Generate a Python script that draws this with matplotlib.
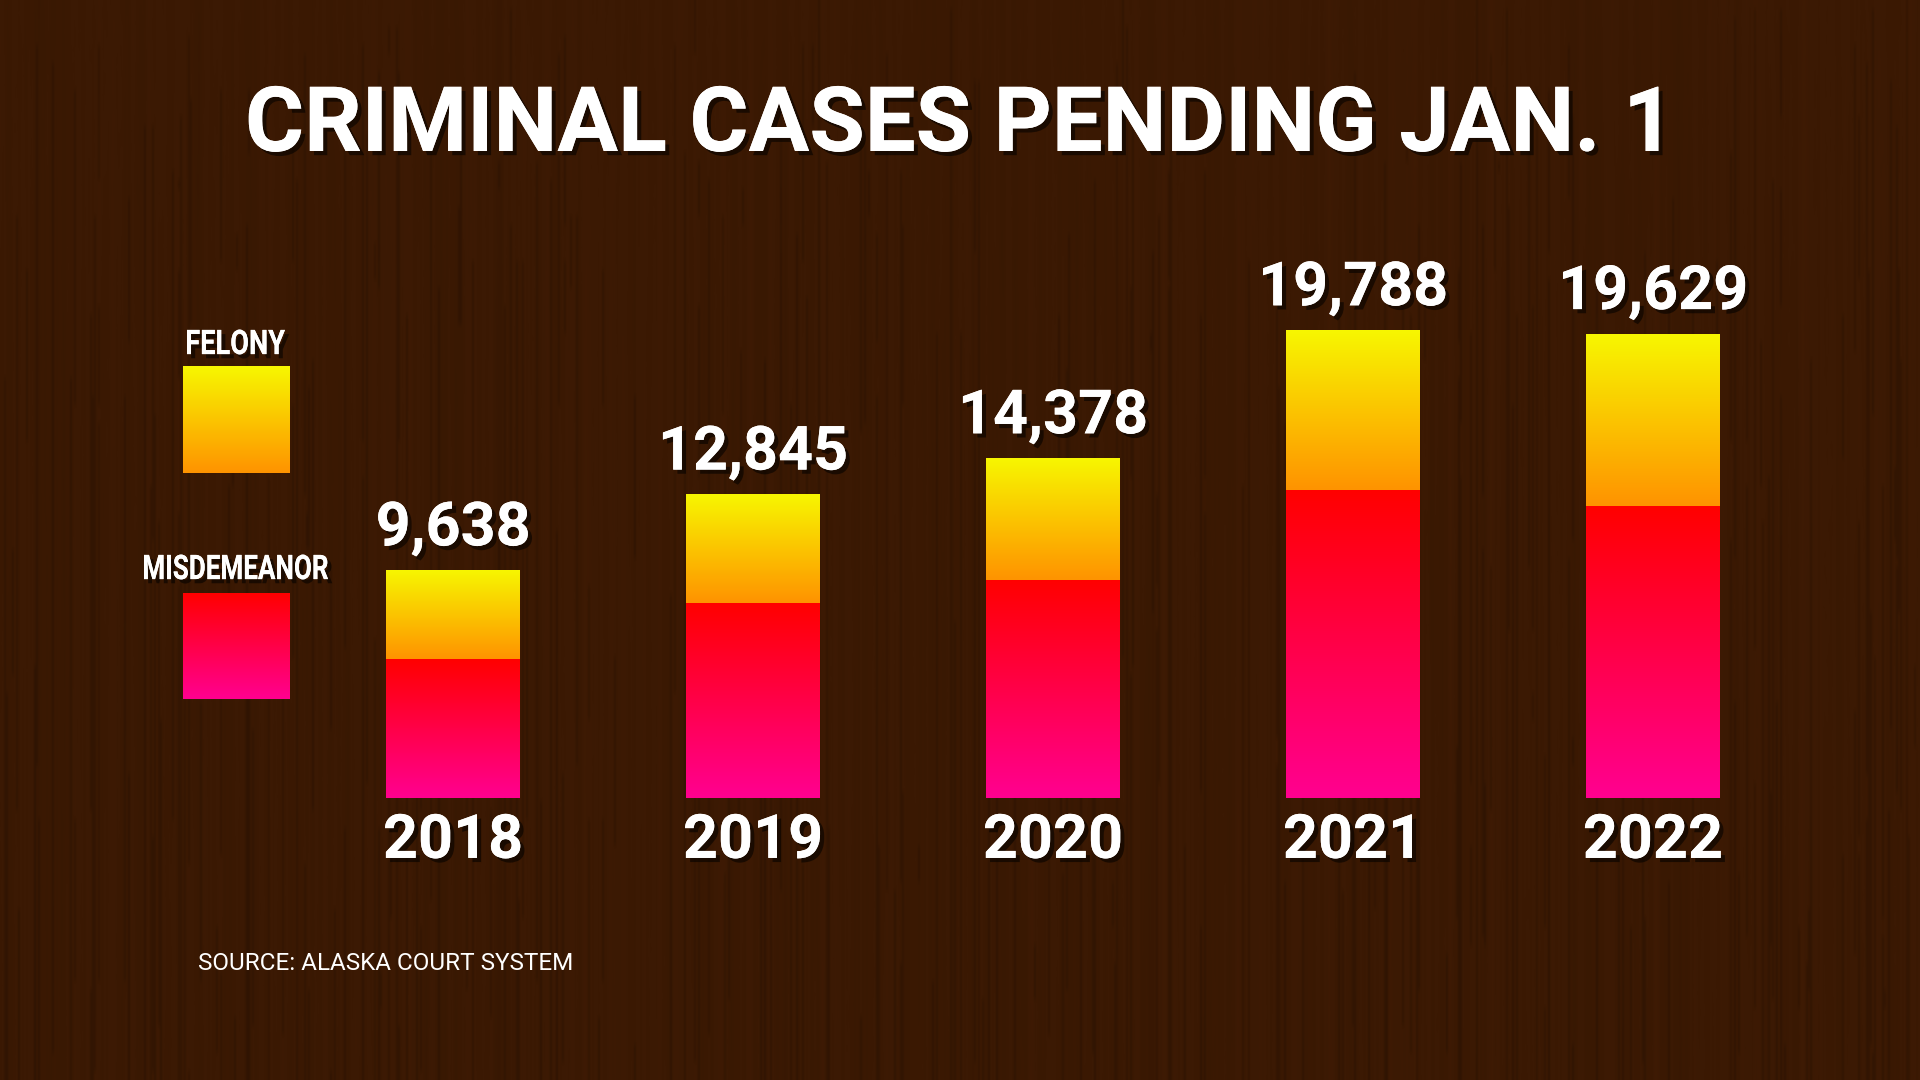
import matplotlib
matplotlib.use("Agg")
import matplotlib.pyplot as plt
import matplotlib.patheffects as pe
from matplotlib.textpath import TextPath
from matplotlib.patches import PathPatch
from matplotlib.font_manager import FontProperties
from matplotlib.transforms import Affine2D
import numpy as np

# data
years = ["2018", "2019", "2020", "2021", "2022"]
totals = [9638, 12845, 14378, 19788, 19629]
misdemeanor = [5860, 8230, 9220, 13000, 12330]
felony = [t - m for t, m in zip(totals, misdemeanor)]

title = "CRIMINAL CASES PENDING JAN. 1"
source = "SOURCE: ALASKA COURT SYSTEM"

W, H = 1920, 1080
BG = "#3b1903"
FEL = ("#f7f700", "#ff9300")   # top, bottom
MIS = ("#ff0000", "#ff0090")

plt.rcParams["font.family"] = ["Roboto", "DejaVu Sans"]
shadow = [pe.withSimplePatchShadow(offset=(3, -3), shadow_rgbFace="black", alpha=0.55), pe.Normal()]


def grad(c_top, c_bot, n=256):
    a = np.array(matplotlib.colors.to_rgb(c_top))
    b = np.array(matplotlib.colors.to_rgb(c_bot))
    t = np.linspace(0, 1, n)[:, None]
    return (a + (b - a) * t)[:, None, :]


def fill_patch(ax, patch, colors, flipped=False):
    x, y = patch.get_x(), patch.get_y()
    w, h = patch.get_width(), patch.get_height()
    ext = (x, x + w, y + h, y) if flipped else (x, x + w, y, y + h)
    im = ax.imshow(grad(*colors), extent=ext, origin="upper",
                   aspect="auto", zorder=2, interpolation="bilinear")
    im.set_clip_path(patch)
    patch.set_facecolor("none")


def narrow_label(ax, x, y, s, size, width):
    # condensed bold label, squeezed horizontally to the given pixel width
    tp = TextPath((0, 0), s, size=size, prop=FontProperties(family="Roboto", weight="bold"))
    bb = tp.get_extents()
    sx = width / bb.width
    tr = (Affine2D().translate(-(bb.x0 + bb.x1) / 2, -(bb.y0 + bb.y1) / 2)
          .scale(sx, -1).translate(x, y))
    ax.add_patch(PathPatch(tr.transform_path(tp), fc="white", ec="none",
                           lw=0, zorder=4, path_effects=shadow))


fig = plt.figure(figsize=(W / 100, H / 100), dpi=100)

# background with faint vertical wood grain
bg = fig.add_axes([0, 0, 1, 1], zorder=0)
rng = np.random.default_rng(7)
nx, ny = 960, 120
colv = rng.normal(0, 1, nx)
colv = np.convolve(colv, np.ones(3) / 3, mode="same")
drift = np.cumsum(rng.normal(0, 0.15, (ny, nx)), axis=0)
tex = 0.025 * colv[None, :] + 0.02 * np.tanh(drift)
dark = rng.random((ny, nx)) > 0.985
dark = np.cumsum(dark, axis=0) % 2 == 1
dark &= rng.random(nx)[None, :] > 0.65
tex = tex - 0.14 * dark
base = np.array(matplotlib.colors.to_rgb(BG))
img = np.clip(base[None, None, :] * (1 + tex[:, :, None]), 0, 1)
bg.imshow(img, extent=(0, W, H, 0), aspect="auto", interpolation="bilinear")
bg.set_xlim(0, W)
bg.set_ylim(H, 0)
bg.axis("off")

# overlay for title, legend, source (pixel coordinates)
ov = fig.add_axes([0, 0, 1, 1], zorder=3)
ov.patch.set_alpha(0)

ov.text(W / 2, 126, title, ha="center", va="center", color="white",
        fontsize=65, fontweight="bold", path_effects=shadow)

narrow_label(ov, 236, 342, "FELONY", 34, 98)
narrow_label(ov, 236, 567, "MISDEMEANOR", 34, 184)
leg_f = ov.bar([236], [107], width=107, bottom=[366], linewidth=0)[0]
leg_m = ov.bar([236], [106], width=107, bottom=[593], linewidth=0)[0]
fill_patch(ov, leg_f, FEL, flipped=True)
fill_patch(ov, leg_m, MIS, flipped=True)

ov.text(198, 964, source, ha="left", va="center", color="white",
        fontsize=17.5)
ov.set_xlim(0, W)
ov.set_ylim(H, 0)
ov.axis("off")

# main bar chart
ax = fig.add_axes([3 / W, 1 - 798 / H, 1800 / W, 598 / H], zorder=2)
ax.patch.set_alpha(0)
x = np.arange(len(years))
bw = 134 / 300
mb = ax.bar(x, misdemeanor, width=bw, linewidth=0)
fb = ax.bar(x, felony, width=bw, bottom=misdemeanor, linewidth=0)
for p in mb:
    fill_patch(ax, p, MIS)
for p in fb:
    fill_patch(ax, p, FEL)
ax.set_xlim(-1.5, 4.5)
ax.set_ylim(0, 598 / 0.02366)

for xi, t, yr in zip(x, totals, years):
    ax.annotate(f"{t:,}", (xi, t), xytext=(0, 9), textcoords="offset points",
                ha="center", va="bottom", color="white", fontsize=44,
                fontweight="bold", path_effects=shadow)
    ax.annotate(yr, (xi, 0), xytext=(0, -10), textcoords="offset points",
                ha="center", va="top", color="white", fontsize=44,
                fontweight="bold", path_effects=shadow)
ax.axis("off")

fig.savefig("out.png", dpi=100, facecolor=BG)
